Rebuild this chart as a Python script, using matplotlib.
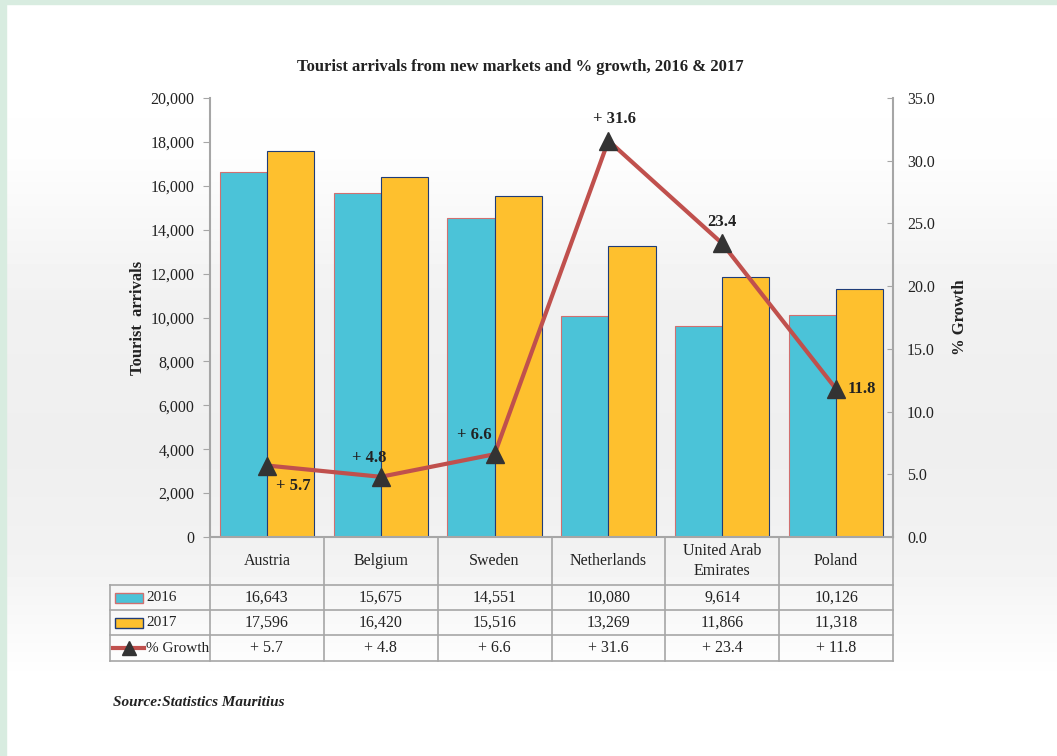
import matplotlib.pyplot as plt
import matplotlib.transforms as mtransforms
from matplotlib.patches import Rectangle
import numpy as np

plt.rcParams['font.family'] = ['Liberation Serif', 'DejaVu Serif']

countries = ["Austria", "Belgium", "Sweden", "Netherlands", "United Arab\nEmirates", "Poland"]
arrivals_2016 = [16643, 15675, 14551, 10080, 9614, 10126]
arrivals_2017 = [17596, 16420, 15516, 13269, 11866, 11318]
growth = [5.7, 4.8, 6.6, 31.6, 23.4, 11.8]
growth_labels = ["+ 5.7", "+ 4.8", "+ 6.6", "+ 31.6", "23.4", "11.8"]
table_growth = ["+ 5.7", "+ 4.8", "+ 6.6", "+ 31.6", "+ 23.4", "+ 11.8"]

c16 = "#4bc3d8"
c17 = "#fec02e"
cline = "#c0504d"
grid_c = "#a6a6a6"
text_c = "#222222"
fs = 11

fig = plt.figure(figsize=(10.57, 7.56), dpi=100)

# background: soft grey band in the middle, green frame top/left
bg = fig.add_axes([0, 0, 1, 1], zorder=-10)
ys = np.array([0, 150, 300, 450, 560, 680, 756])
vs = np.array([1.0, 0.995, 0.945, 0.935, 0.95, 1.0, 1.0])
col = np.interp(np.arange(756), ys, vs)
img = np.repeat(col[:, None], 4, axis=1)
bg.imshow(img, cmap="gray", vmin=0, vmax=1, aspect="auto", extent=[0, 1, 0, 1])
bg.add_patch(Rectangle((0, 0), 6 / 1057, 1, color="#d8ece0", transform=bg.transAxes))
bg.add_patch(Rectangle((0, 1 - 4 / 756), 1, 4 / 756, color="#d8ece0", transform=bg.transAxes))
bg.axis("off")

ax = fig.add_axes([210 / 1057, 1 - 537 / 756, (893 - 210) / 1057, (537 - 98) / 756])
ax.patch.set_alpha(0)
x = np.arange(len(countries))
w = 0.415
ax.bar(x - w / 2, arrivals_2016, w, color=c16, edgecolor="#d07070", linewidth=0.8, zorder=2)
ax.bar(x + w / 2, arrivals_2017, w, color=c17, edgecolor="#1f3c78", linewidth=0.8, zorder=2)
ax.set_xlim(-0.5, 5.5)
ax.set_ylim(0, 20000)
ax.set_yticks(range(0, 20001, 2000))
ax.set_yticklabels([f"{v:,}" for v in range(0, 20001, 2000)])
ax.set_xticks([])
for s in ["top", "right"]:
    ax.spines[s].set_visible(False)
for s in ["left", "bottom"]:
    ax.spines[s].set_color(grid_c)
    ax.spines[s].set_linewidth(1.5)
ax.tick_params(axis="y", direction="out", length=5, color=grid_c, labelsize=fs + 0.5,
               labelcolor=text_c, pad=6)
ax.set_ylabel("Tourist  arrivals", fontsize=12, fontweight="bold", color=text_c)
ax.yaxis.set_label_coords(-0.094, 0.5)

ax2 = ax.twinx()
ax2.plot(x, growth, color=cline, linewidth=3, marker="^", markersize=12.5,
         markerfacecolor="#333333", markeredgecolor="#333333", zorder=5)
ax2.set_ylim(0, 35)
ax2.set_yticks(np.arange(0, 35.1, 5))
ax2.set_yticklabels([f"{v:.1f}" for v in np.arange(0, 35.1, 5)])
for s in ["top", "left", "bottom"]:
    ax2.spines[s].set_visible(False)
ax2.spines["right"].set_color(grid_c)
ax2.spines["right"].set_linewidth(1.5)
ax2.tick_params(axis="y", direction="in", length=4, color=grid_c, labelsize=fs + 0.5,
                labelcolor=text_c, pad=10)
ax2.set_ylabel("% Growth", fontsize=12, fontweight="bold", color=text_c, rotation=90)
ax2.yaxis.set_label_coords(1.086, 0.5)

offsets = [(0.08, -1.6, "left"), (-0.1, 1.5, "center"), (-0.18, 1.5, "center"),
           (0.05, 1.7, "center"), (0.0, 1.7, "center"), (0.1, 0.0, "left")]
for xi, gi, lab, (dx, dy, ha) in zip(x, growth, growth_labels, offsets):
    ax2.text(xi + dx, gi + dy, lab, ha=ha, va="center", fontsize=12,
             fontweight="bold", color=text_c, zorder=6)

fig.text(520 / 1057, 1 - 67 / 756, "Tourist arrivals from new markets and % growth, 2016 & 2017",
         ha="center", va="center", fontsize=12, fontweight="bold", color=text_c)

# data table under the plot
tr = mtransforms.blended_transform_factory(ax.transData, ax.transAxes)
h = 537 - 98
row_y = [-(585 - 537) / h, -(610 - 537) / h, -(635 - 537) / h, -(661 - 537) / h]
x_left = -0.5 - 100 / 113.8
lkw = dict(color=grid_c, linewidth=1.2, transform=tr, clip_on=False)
for xb in np.arange(-0.5, 5.6, 1.0):
    ax.plot([xb, xb], [0, row_y[-1]], **lkw)
ax.plot([x_left, x_left], [row_y[0], row_y[-1]], **lkw)
for ry in row_y:
    ax.plot([x_left, 5.5], [ry, ry], **lkw)

for xi, name in zip(x, countries):
    ax.text(xi, row_y[0] / 2, name, transform=tr, ha="center", va="center",
            fontsize=fs + 0.5, color=text_c, linespacing=1.3)
rows = [[f"{v:,}" for v in arrivals_2016], [f"{v:,}" for v in arrivals_2017], table_growth]
mids = [(row_y[i] + row_y[i + 1]) / 2 for i in range(3)]
for vals, my in zip(rows, mids):
    for xi, v in zip(x, vals):
        ax.text(xi, my, v, transform=tr, ha="center", va="center", fontsize=fs + 0.5, color=text_c)

key_x = -0.5 - 95 / 113.8
key_w = 28 / 113.8
kh = 10 / h
ax.add_patch(Rectangle((key_x, mids[0] - kh / 2), key_w, kh, facecolor=c16,
                       edgecolor="#d07070", linewidth=1, transform=tr, clip_on=False))
ax.add_patch(Rectangle((key_x, mids[1] - kh / 2), key_w, kh, facecolor=c17,
                       edgecolor="#1f3c78", linewidth=1, transform=tr, clip_on=False))
ax.plot([key_x - 0.02, key_x + key_w + 0.01], [mids[2], mids[2]], color=cline, linewidth=3,
        transform=tr, clip_on=False)
ax.plot([key_x + key_w / 2], [mids[2]], marker="^", markersize=10, color="#333333",
        transform=tr, clip_on=False)
lab_x = -0.5 - 64 / 113.8
for lab, my in zip(["2016", "2017", "% Growth"], mids):
    ax.text(lab_x, my, lab, transform=tr, ha="left", va="center", fontsize=fs, color=text_c)

fig.text(113 / 1057, 1 - 702 / 756, "Source:Statistics Mauritius", ha="left", va="center",
         fontsize=11, fontweight="bold", fontstyle="italic", color=text_c)

fig.savefig("out.png", dpi=100)
